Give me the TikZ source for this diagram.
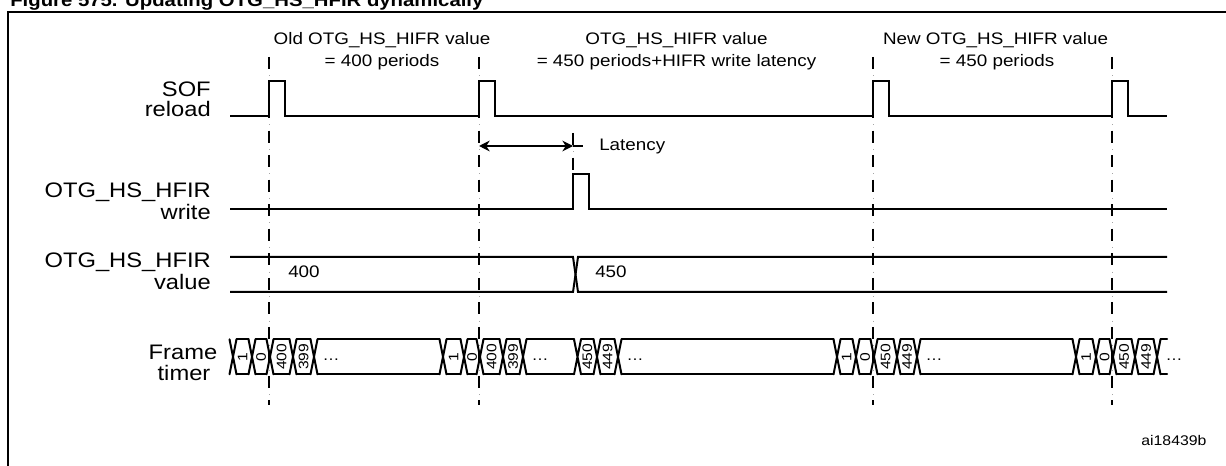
\documentclass[tikz,border=0pt]{standalone}
\usepackage{fontspec}
\setmainfont[FakeStretch=1.13]{Liberation Sans}
\usetikzlibrary{arrows.meta}
\begin{document}
\begin{tikzpicture}[x=0.75pt,y=-0.75pt,
  sig/.style={line width=1.5pt, line join=miter},
  bus/.style={line width=1.5pt, line cap=round},
  frame/.style={line width=2pt},
  guide/.style={line width=1pt, dash pattern=on 9pt off 9.4pt},
  guidedot/.style={line width=0.6pt, black!35, dash pattern=on 0.75pt off 17.65pt, dash phase=4.7pt},
  ann/.style={font=\fontsize{12.5}{15}\selectfont, inner sep=0pt},
  lab/.style={font=\fontsize{15.75}{18}\selectfont, inner sep=0pt},
  dig/.style={font=\fontsize{10.35}{12}\selectfont, inner sep=0pt, rotate=90},
  dots/.style={font=\fontsize{11.25}{12}\selectfont, inner sep=0pt, anchor=base},
  latarrow/.style={line width=1pt, {Stealth[length=8pt,width=8pt]}-{Stealth[length=8pt,width=8pt]}},
]
\useasboundingbox (0,0) rectangle (1226,466);
\clip (0,0) rectangle (1226,466);

% title (cropped) and frame
\node[font=\bfseries\fontsize{13.5}{16}\selectfont, inner sep=0pt, anchor=base west] (title) at (10,6.5) {Figure 575. Updating OTG\_HS\_HFIR dynamically};
\draw[frame] (8,480) -- (8,12) -- (1240,12);

% guide lines
\foreach \x/\n in {269/g1,479/g2,873/g3,1112/g4}{
  \coordinate (\n top) at (\x,57);
  \coordinate (\n bot) at (\x,405);
  \draw[guide] (\n top) -- (\n bot);
  \draw[guidedot] (\n top) -- (\n bot);
}
\coordinate (lattop) at (573,133);
\coordinate (latbot) at (573,209);
\draw[guide] (lattop) -- (latbot);
\draw[guidedot] (lattop) -- (latbot);

% annotations
\node[ann, anchor=base] (a1l1) at (382,45) {Old OTG\_HS\_HIFR value};
\node[ann, anchor=base] (a1l2) at (382,67) {= 400 periods};
\node[ann, anchor=base] (a2l1) at (676.5,45) {OTG\_HS\_HIFR value};
\node[ann, anchor=base] (a2l2) at (676.5,67) {= 450 periods+HIFR write latency};
\node[ann, anchor=base] (a3l1) at (995.5,45) {New OTG\_HS\_HIFR value};
\node[ann, anchor=base] (a3l2) at (997,67) {= 450 periods};

% signal labels
\node[lab, anchor=base east] (sof1) at (211,96.7) {SOF};
\node[lab, anchor=base east] (sof2) at (211,116.5) {reload};
\node[lab, anchor=base east] (wr1) at (211,198) {OTG\_HS\_HFIR};
\node[lab, anchor=base east] (wr2) at (211,220) {write};
\node[lab, anchor=base east] (va1) at (211,268) {OTG\_HS\_HFIR};
\node[lab, anchor=base east] (va2) at (211,290) {value};
\node[lab, anchor=base] (ft1) at (183,359) {Frame};
\node[lab, anchor=base] (ft2) at (184,380) {timer};

% SOF reload
\draw[sig] (230,116) -- (269,116) -- (269,81) -- (284.5,81) -- (284.5,116)
  -- (479,116) -- (479,81) -- (494.5,81) -- (494.5,116)
  -- (873,116) -- (873,81) -- (888.5,81) -- (888.5,116)
  -- (1112,116) -- (1112,81) -- (1127.5,81) -- (1127.5,116) -- (1167,116);

% latency
\coordinate (latL) at (479,146);
\coordinate (latR) at (573,146);
\coordinate (latE) at (583,146);
\draw[latarrow] (latL) -- (latR);
\draw[line width=1pt] (latR) -- (latE);
\node[ann, anchor=base west] (lat) at (599,151) {Latency};

% write
\draw[sig] (230,209) -- (573,209) -- (573,174) -- (589,174) -- (589,209) -- (1167,209);

% value bus
\draw[sig] (230,257) -- (573,257) -- (578,292) -- (1167,292);
\draw[sig] (230,292) -- (573,292) -- (578,257) -- (1167,257);
\node[ann, anchor=base west] (v400) at (288,277.5) {400};
\node[ann, anchor=base west] (v450) at (595,277.5) {450};

% frame timer bus
\def\T{339.3}\def\B{374.3}
\foreach \c in {233,252,270,293,314,443,464,480,503,523,577.5,597,618,837,856,874,897,917,1076,1096,1113,1135,1157}{
  \draw[bus] (\c-3.5,\T) -- (\c+3.5,\B) (\c-3.5,\B) -- (\c+3.5,\T);
}
\foreach \a/\b in {233/252,252/270,270/293,293/314,314/443,443/464,464/480,480/503,503/523,523/577.5,577.5/597,597/618,618/837,837/856,856/874,874/897,897/917,917/1076,1076/1096,1096/1113,1113/1135,1135/1157,1157/1170.5}{
  \draw[bus] (\a+3.5,\T) -- (\b-3.5,\T) (\a+3.5,\B) -- (\b-3.5,\B);
}
\foreach \x/\t [count=\i] in {242.5/1,261/0,281.5/400,303.5/399,453.5/1,472/0,491.5/400,513/399,587.25/450,607.5/449,846.5/1,865/0,885.5/450,907/449,1086/1,1104.5/0,1124/450,1146/449}{
  \node[dig] (d\i) at (\x,356.8) {\t};
}
\foreach \x [count=\i] in {331,540,635,934,1174}{
  \node[dots] (e\i) at (\x,360) {…};
}

\node[font=\fontsize{10.5}{12}\selectfont, inner sep=0pt, anchor=base east] (ref) at (1206.7,445) {ai18439b};
\end{tikzpicture}
\end{document}
